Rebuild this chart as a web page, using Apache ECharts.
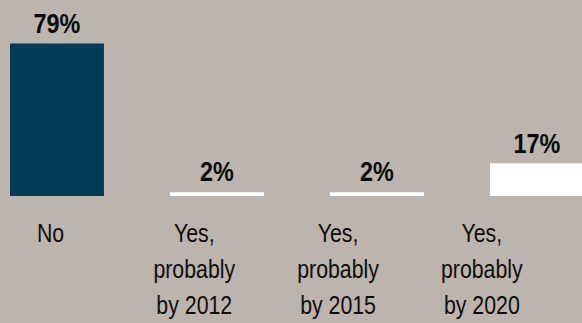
<!DOCTYPE html>
<html>
<head>
<meta charset="utf-8">
<script src="https://cdn.jsdelivr.net/npm/echarts@6/dist/echarts.min.js"></script>
<style>
  html, body { margin: 0; padding: 0; background: #bcb4ae; overflow: hidden; }
  #wrap { width: 582px; height: 323px; overflow: hidden; }
  /* the chart is laid out wider and squeezed horizontally, giving narrow type */
  #chart { width: 710px; height: 323px; transform: scaleX(0.8197); transform-origin: 0 0; }
</style>
</head>
<body>
<div id="wrap"><div id="chart"></div></div>
<script>
// Survey answers and their shares (percent)
const categories = ['No', 'Yes,\nprobably\nby 2012', 'Yes,\nprobably\nby 2015', 'Yes,\nprobably\nby 2020'];
const shares = [79, 2, 2, 17];
const barColors = ['#023b55', '#ffffff', '#ffffff', '#ffffff'];

const FONT = '"Liberation Sans", Arial, sans-serif';

const chart = echarts.init(document.getElementById('chart'), null, { renderer: 'svg' });

chart.setOption({
  backgroundColor: '#bcb4ae',
  animation: false,
  grid: [
    // bars
    { left: 69.5, right: 55, top: 3, bottom: 127 },
    // answer captions underneath
    { left: 61.6, right: 122.2, top: 3, bottom: 127 }
  ],
  xAxis: [
    {
      type: 'category', gridIndex: 0, data: categories, boundaryGap: false,
      axisLine: { show: false }, axisTick: { show: false }, axisLabel: { show: false }
    },
    {
      type: 'category', gridIndex: 1, data: categories, boundaryGap: false,
      axisLine: { show: false }, axisTick: { show: false },
      axisLabel: {
        show: true, margin: 36, color: '#0d0d0d', fontFamily: FONT,
        fontSize: 26, lineHeight: 36, interval: 0
      }
    }
  ],
  yAxis: [
    { type: 'value', gridIndex: 0, min: 0, max: 100, show: false },
    { type: 'value', gridIndex: 1, min: 0, max: 100, show: false }
  ],
  series: [{
    type: 'bar',
    xAxisIndex: 0, yAxisIndex: 0,
    barWidth: 114.6,
    data: shares.map((v, i) => ({ value: v, itemStyle: { color: barColors[i] } })),
    label: {
      show: true, position: 'top', distance: 6,
      formatter: p => p.value + '%',
      color: '#0a0a0a', fontFamily: FONT, fontWeight: 'bold', fontSize: 28.5
    }
  }, {
    // keeps the caption axis attached to a series
    type: 'bar', xAxisIndex: 1, yAxisIndex: 1,
    data: categories.map(() => 0), itemStyle: { opacity: 0 }, silent: true
  }]
});
</script>
</body>
</html>
